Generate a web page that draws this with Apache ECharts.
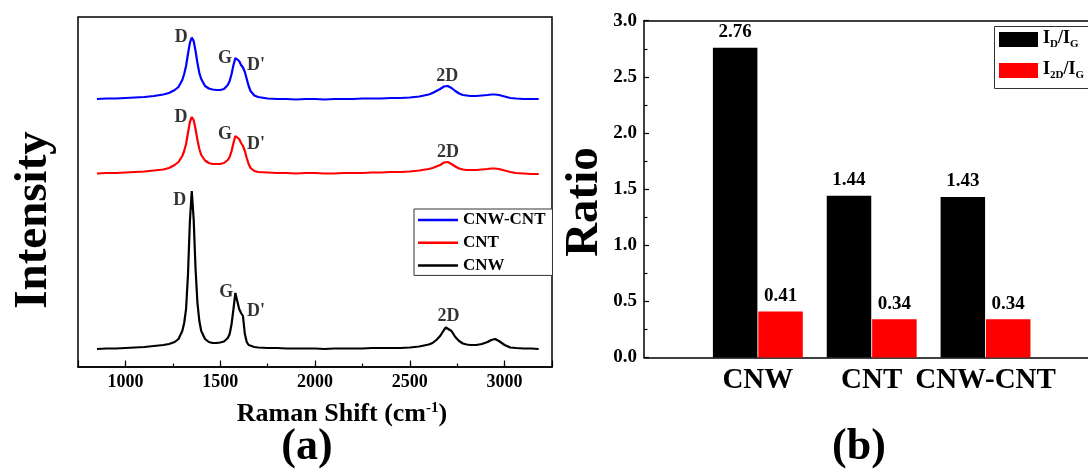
<!DOCTYPE html>
<html><head><meta charset="utf-8">
<script src="https://cdn.jsdelivr.net/npm/echarts@6/dist/echarts.min.js"></script>
<style>html,body{margin:0;padding:0;background:#fff}#c{width:1088px;height:470px}</style>
</head><body><div id="c"></div>
<script>
// ---- Panel (a): Raman spectra (intensity in arbitrary units, curves offset) ----
const ramanShift = [850, 900, 950, 1000, 1050, 1100, 1150, 1200, 1230, 1260,
  1280, 1300, 1310, 1320, 1330, 1340, 1350, 1360, 1370, 1380,
  1390, 1400, 1420, 1440, 1460, 1480, 1500, 1520, 1540, 1550,
  1560, 1570, 1580, 1590, 1600, 1610, 1620, 1630, 1640, 1650,
  1660, 1680, 1700, 1750, 1800, 1850, 1900, 1950, 2000, 2050,
  2100, 2150, 2200, 2250, 2300, 2350, 2400, 2450, 2500, 2550,
  2600, 2620, 2640, 2660, 2680, 2690, 2700, 2720, 2740, 2760,
  2780, 2800, 2820, 2850, 2880, 2910, 2930, 2950, 2970, 3000,
  3030, 3060, 3100, 3140, 3180];
const intensityCNWCNT = [268, 268.5, 268.5, 269, 269.5, 270, 271, 272.5, 274, 277,
  280, 287, 293, 301, 313, 324, 329.5, 326, 316, 304,
  294, 288, 281, 278.5, 277.5, 277, 277, 278, 282, 286,
  293, 302, 309, 310, 306, 302, 299.5, 295, 288, 281,
  276, 271.5, 270, 268.5, 268, 268, 267.5, 268, 268, 267.5,
  268, 268, 268, 268.5, 268.5, 268.5, 269, 269, 269.5, 270.5,
  272.5, 274, 276, 278, 280.5, 281, 281, 279, 276, 273.5,
  272, 271.5, 271, 271, 271.5, 272, 272.5, 272.5, 272, 270.5,
  269, 268.5, 268, 268, 268];
const intensityCNT = [193.5, 194, 194, 194.5, 195, 195.5, 196.5, 197.5, 199, 202,
  205, 211, 216, 223, 234, 245, 250, 247, 238, 227,
  218, 212, 206.5, 204, 203, 203, 203, 204, 207, 210,
  216, 224, 231, 232, 228, 224, 221, 216, 209, 203,
  199, 196, 195, 194.5, 194, 194, 193.5, 194, 194, 193.5,
  193.5, 194, 194, 194, 194.5, 194.5, 195, 195, 195.5, 196.5,
  198, 199, 200.5, 202, 204.5, 205, 205, 203, 200.5, 198.5,
  197.5, 197, 197, 197, 197.5, 198, 198.5, 198.5, 198, 196.5,
  195, 194, 193.5, 193, 193];
const intensityCNW = [18, 18.5, 18.5, 19, 19.5, 20, 21, 22, 23, 25,
  28, 36, 44, 58, 92, 145, 176, 148, 98, 64,
  46, 36, 28, 25, 24, 24, 24.5, 25.5, 29, 33,
  43, 58, 74, 66, 58, 54, 51, 33, 25, 22,
  21, 20, 19.5, 19, 19, 18.5, 18.5, 18.5, 18.5, 18,
  18.5, 18.5, 18.5, 18.5, 19, 19, 19, 19, 19.5, 20.5,
  22.5, 24, 27, 31, 37, 39.5, 40, 36, 30, 26,
  23.5, 22.5, 22, 22, 23, 25, 27, 28, 26, 22,
  19.5, 19, 18.5, 18.5, 18];
// peak annotations: [Raman shift, intensity, text]
const peakLabels = [
  [1295, 330, 'D'], [1525, 309, 'G'], [1689, 301.5, "D'"], [2697, 291, '2D'],
  [1293, 250, 'D'], [1525, 233, 'G'], [1689, 223, "D'"], [2702, 215, '2D'],
  [1286, 167, 'D'], [1532, 74.5, 'G'], [1689, 56, "D'"], [2704, 50.5, '2D']
];
const spectraNames = ['CNW-CNT', 'CNT', 'CNW'];

// ---- Panel (b): intensity ratios ----
const samples = ['CNW', 'CNT', 'CNW-CNT'];
const ratioDG = [2.76, 1.44, 1.43];
const ratio2DG = [0.41, 0.34, 0.34];
const ratioNames = ['ID/IG', 'I2D/IG'];

const SERIF = '"Liberation Serif", "Times New Roman", serif';
const pairs = arr => ramanShift.map((x, i) => [x, arr[i]]);
const barPairs = arr => arr.map((v, i) => [i + 1, v]);

const chart = echarts.init(document.getElementById('c'), null, {renderer: 'canvas'});
const txt = (size) => ({fontFamily: SERIF, fontWeight: 'bold', fontSize: size, color: '#000'});
const barLabel = Object.assign(txt(19), {show: true, position: 'top', distance: 6,
  formatter: p => p.value[1].toFixed(2)});

chart.setOption({
  animation: false,
  backgroundColor: '#fff',
  grid: [
    {left: 78, top: 17, width: 474, height: 350, show: true, borderColor: '#000', borderWidth: 1.5},
    {left: 644, top: 20.7, right: 0, height: 336.8, show: false}
  ],
  xAxis: [
    {type: 'value', gridIndex: 0, min: 750, max: 3250, interval: 250, position: 'bottom',
      axisLine: {lineStyle: {color: '#000', width: 1.5}},
      axisTick: {inside: true, length: 3.5, lineStyle: {color: '#000', width: 1.2}},
      axisLabel: Object.assign(txt(18), {margin: 6, showMinLabel: false, showMaxLabel: false,
        formatter: v => (v % 500 === 0 ? String(v) : '')}),
      splitLine: {show: false}},
    {type: 'value', gridIndex: 0, min: 750, max: 3250, splitNumber: 5, position: 'bottom',
      axisLine: {show: false},
      axisTick: {inside: true, length: 6.5, lineStyle: {color: '#000', width: 1.2}},
      axisLabel: {show: false}, splitLine: {show: false}},
    {type: 'value', gridIndex: 1, min: 0, max: 3.9, interval: 1, position: 'bottom',
      axisLine: {lineStyle: {color: '#000', width: 1.5}},
      axisTick: {show: false},
      axisLabel: Object.assign(txt(29), {margin: 9, showMinLabel: false, showMaxLabel: false,
        formatter: v => samples[v - 1] || ''}),
      splitLine: {show: false}},
    {type: 'value', gridIndex: 1, min: 0, max: 3.9, position: 'top',
      axisLine: {lineStyle: {color: '#000', width: 1.5}},
      axisTick: {show: false}, axisLabel: {show: false}, splitLine: {show: false}}
  ],
  yAxis: [
    {type: 'value', gridIndex: 0, min: 0, max: 350,
      axisLine: {show: false}, axisTick: {show: false}, axisLabel: {show: false}, splitLine: {show: false}},
    {type: 'value', gridIndex: 1, min: 0, max: 3, interval: 0.5,
      axisLine: {show: true, lineStyle: {color: '#000', width: 1.5}},
      axisTick: {show: true, inside: true, length: 5, lineStyle: {color: '#000', width: 1.2}},
      minorTick: {show: true, splitNumber: 2, length: 3.5, lineStyle: {color: '#000', width: 1.2}},
      axisLabel: Object.assign(txt(19), {margin: 7, formatter: v => v.toFixed(1)}),
      splitLine: {show: false}}
  ],
  legend: [
    {data: spectraNames, orient: 'vertical', left: 414, top: 209, icon: 'rect',
      itemWidth: 40, itemHeight: 2.5, itemGap: 4.7, padding: [2, 7, 1, 4],
      borderColor: '#333', borderWidth: 1, backgroundColor: '#fff', selectedMode: false,
      textStyle: Object.assign(txt(17), {lineHeight: 18})},
    {data: ratioNames, orient: 'vertical', left: 994, top: 26, icon: 'rect',
      itemWidth: 39, itemHeight: 15, itemGap: 10, padding: [3, 8, 9, 5],
      borderWidth: 0, backgroundColor: 'transparent', selectedMode: false,
      formatter: n => n === 'ID/IG' ? '{m|I}{s|D}{m|/I}{s|G}' : '{m|I}{s|2D}{m|/I}{s|G}',
      textStyle: {rich: {
        m: Object.assign(txt(18), {verticalAlign: 'bottom', padding: [0, 0, 3, 0]}),
        s: Object.assign(txt(11), {verticalAlign: 'bottom'})
      }}}
  ],
  series: [
    {name: 'CNW-CNT', type: 'line', xAxisIndex: 0, yAxisIndex: 0, data: pairs(intensityCNWCNT),
      showSymbol: false, symbol: 'none', color: '#0000ff', lineStyle: {width: 2.2, color: '#0000ff'}},
    {name: 'CNT', type: 'line', xAxisIndex: 0, yAxisIndex: 0, data: pairs(intensityCNT),
      showSymbol: false, symbol: 'none', color: '#ff0000', lineStyle: {width: 2.2, color: '#ff0000'}},
    {name: 'CNW', type: 'line', xAxisIndex: 0, yAxisIndex: 0, data: pairs(intensityCNW),
      showSymbol: false, symbol: 'none', color: '#000000', lineStyle: {width: 2.2, color: '#000000'}},
    {name: 'peaks', type: 'scatter', xAxisIndex: 0, yAxisIndex: 0, data: peakLabels,
      symbolSize: 0, silent: true,
      label: Object.assign(txt(18), {show: true, position: 'inside', formatter: p => p.data[2]})},
    {name: 'ID/IG', type: 'bar', xAxisIndex: 2, yAxisIndex: 1, data: barPairs(ratioDG),
      barWidth: 44.5, barGap: '2%', color: '#000', itemStyle: {color: '#000'}, label: barLabel},
    {name: 'I2D/IG', type: 'bar', xAxisIndex: 2, yAxisIndex: 1, data: barPairs(ratio2DG),
      barWidth: 44.5, barGap: '2%', color: '#ff0000', itemStyle: {color: '#ff0000'}, label: barLabel}
  ],
  graphic: [
    {type: 'rect', shape: {x: 994.5, y: 26.5, width: 130, height: 62}, silent: true,
      style: {fill: 'none', stroke: '#333', lineWidth: 1}},
    {type: 'text', x: 34, y: 220, rotation: Math.PI / 2,
      style: {text: 'Intensity', fontFamily: SERIF, fontWeight: 'bold', fontSize: 47, fill: '#000', align: 'center', verticalAlign: 'middle'}},
    {type: 'text', x: 585, y: 202, rotation: Math.PI / 2,
      style: {text: 'Ratio', fontFamily: SERIF, fontWeight: 'bold', fontSize: 47, fill: '#000', align: 'center', verticalAlign: 'middle'}},
    {type: 'text', x: 342, y: 414,
      style: {text: '{m|Raman Shift (cm}{s|-1}{m|)}', align: 'center', verticalAlign: 'middle',
        rich: {m: {fontFamily: SERIF, fontWeight: 'bold', fontSize: 26, fill: '#000', verticalAlign: 'bottom'},
               s: {fontFamily: SERIF, fontWeight: 'bold', fontSize: 15, fill: '#000', verticalAlign: 'top'}}}},
    {type: 'text', x: 307, y: 448,
      style: {text: '(a)', fontFamily: SERIF, fontWeight: 'bold', fontSize: 44, fill: '#000', align: 'center', verticalAlign: 'middle'}},
    {type: 'text', x: 859, y: 448,
      style: {text: '(b)', fontFamily: SERIF, fontWeight: 'bold', fontSize: 44, fill: '#000', align: 'center', verticalAlign: 'middle'}}
  ]
});
</script></body></html>
